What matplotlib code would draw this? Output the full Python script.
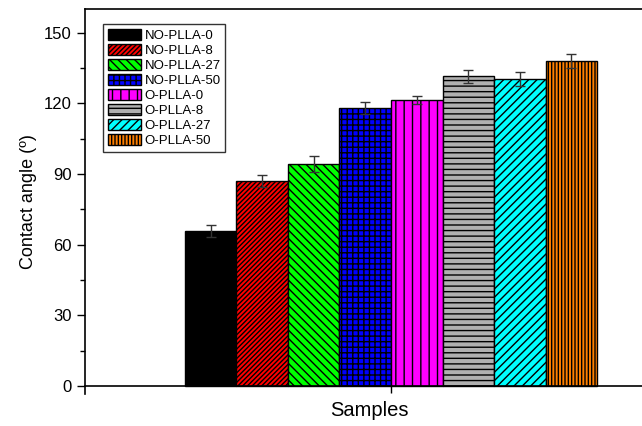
import matplotlib.pyplot as plt
import numpy as np

plt.rcParams['font.family'] = ['Liberation Sans', 'DejaVu Sans']

samples = ['NO-PLLA-0', 'NO-PLLA-8', 'NO-PLLA-27', 'NO-PLLA-50',
           'O-PLLA-0', 'O-PLLA-8', 'O-PLLA-27', 'O-PLLA-50']
angle = [65.8, 87.0, 94.2, 118.0, 121.2, 131.4, 130.3, 137.8]
err = [2.5, 2.5, 3.5, 2.5, 1.7, 2.6, 3.0, 2.9]

colors = ['#000000', '#ff0000', '#00ff00', '#0000ff',
          '#ff00ff', '#b0b0b0', '#00ffff', '#ff8000']
hatches = ['', '/' * 7, '\\' * 4, '+++', '||', '---', '////', '|||||']

fig = plt.figure(figsize=(6.42, 4.26), dpi=100)
W, H = 642, 426
# axes deliberately runs past the right edge, as in the original
ax = fig.add_axes([85 / W, 1 - 394.3 / H, 612 / W, 385.3 / H])

x = np.arange(len(samples))
for i in range(len(samples)):
    ax.bar(x[i], angle[i], width=1.0, color=colors[i], edgecolor='black',
           linewidth=1.0, hatch=hatches[i], label=samples[i], zorder=2)
ax.errorbar(x, angle, yerr=err, fmt='none', ecolor='#333333',
            elinewidth=1.0, capsize=3.5, capthick=1.0, zorder=3)

ax.set_xlim(-2.44, 9.44)
ax.set_ylim(-3.5, 160)
ax.spines['bottom'].set_position(('data', 0))
ax.spines['right'].set_visible(False)
for s in ['left', 'bottom', 'top']:
    ax.spines[s].set_linewidth(1.2)

ax.set_yticks([0, 30, 60, 90, 120, 150])
ax.set_yticks([15, 45, 75, 105, 135], minor=True)
ax.set_xticks([3.5])
ax.set_xticklabels([''])
ax.tick_params(axis='y', which='major', length=6, width=1.0, labelsize=12)
ax.tick_params(axis='y', which='minor', length=3.5, width=1.0)
ax.tick_params(axis='x', length=5, width=1.0)

ax.set_ylabel('Contact angle (º)', fontsize=13, labelpad=5)
fig.text(369 / W, 1 - 410 / H, 'Samples', fontsize=14.5, ha='center', va='center')

leg = ax.legend(loc='upper left', bbox_to_anchor=(103 / W, 1 - 24 / H),
                bbox_transform=fig.transFigure, fontsize=9.5, frameon=True,
                fancybox=False, edgecolor='black', handlelength=2.5,
                handleheight=1.0, labelspacing=0.12, handletextpad=0.3,
                borderpad=0.35, borderaxespad=0)
leg.get_frame().set_linewidth(1.0)

fig.savefig('out.png', dpi=100)
